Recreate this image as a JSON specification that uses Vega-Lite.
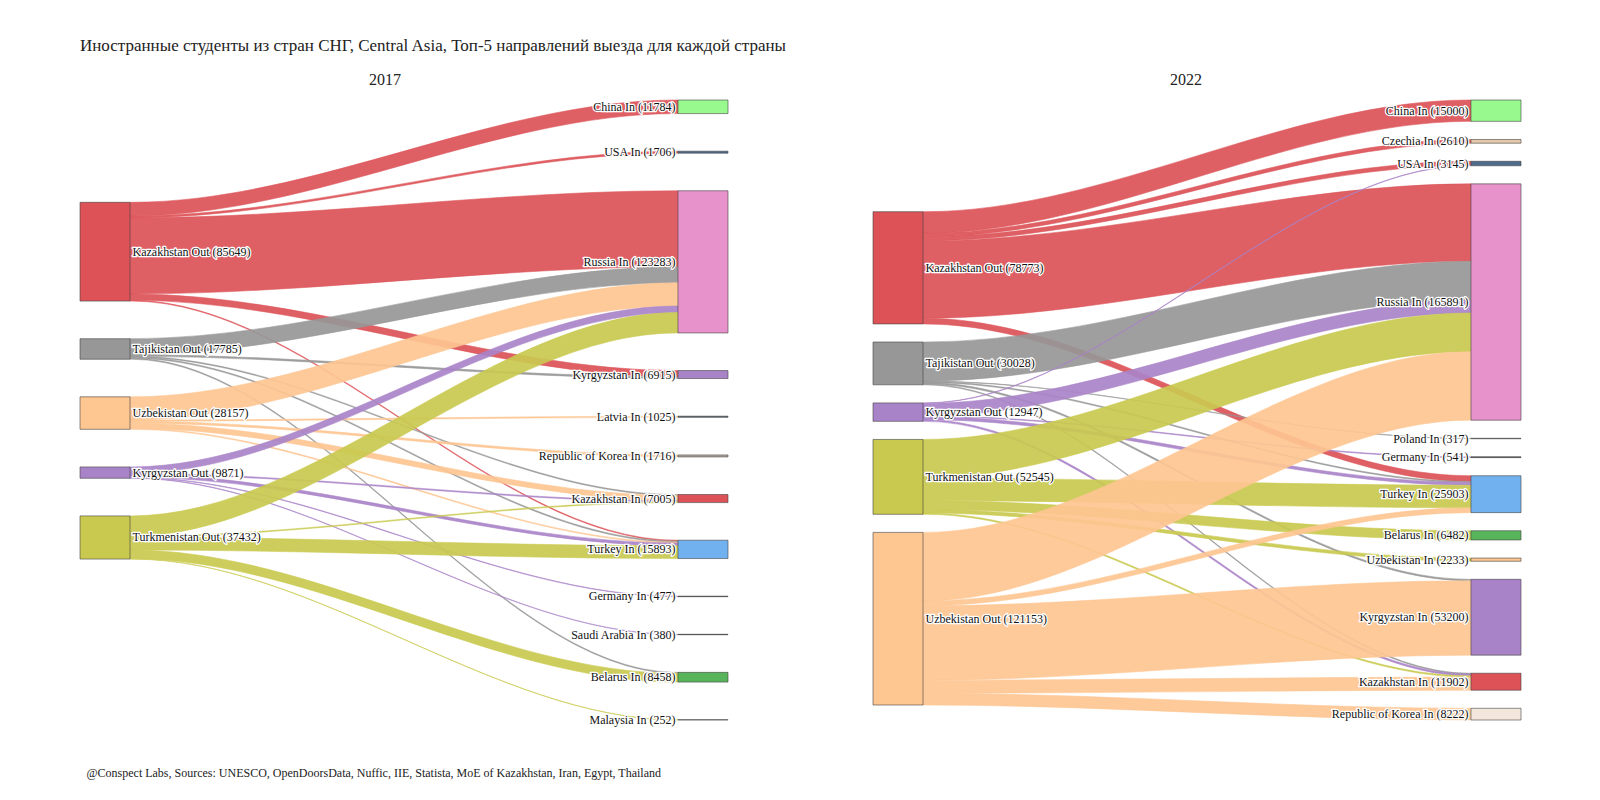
{
  "$schema": "https://vega.github.io/schema/vega-lite/v6.json",
  "background": "white",
  "padding": {"left": 79, "top": 36, "right": 80, "bottom": 20},
  "title": {"text": "Иностранные студенты из стран СНГ, Central Asia, Топ-5 направлений выезда для каждой страны", "anchor": "start", "frame": "group", "fontSize": 17, "fontWeight": "normal", "font": "Liberation Serif", "color": "#222", "offset": 17},
  "datasets": {
    "nodes": [
      {"year": 2017, "side": "Out", "name": "Kazakhstan Out", "value": 85649},
      {"year": 2017, "side": "Out", "name": "Tajikistan Out", "value": 17785},
      {"year": 2017, "side": "Out", "name": "Uzbekistan Out", "value": 28157},
      {"year": 2017, "side": "Out", "name": "Kyrgyzstan Out", "value": 9871},
      {"year": 2017, "side": "Out", "name": "Turkmenistan Out", "value": 37432},
      {"year": 2017, "side": "In", "name": "China In", "value": 11784},
      {"year": 2017, "side": "In", "name": "USA In", "value": 1706},
      {"year": 2017, "side": "In", "name": "Russia In", "value": 123283},
      {"year": 2017, "side": "In", "name": "Kyrgyzstan In", "value": 6915},
      {"year": 2017, "side": "In", "name": "Latvia In", "value": 1025},
      {"year": 2017, "side": "In", "name": "Republic of Korea In", "value": 1716},
      {"year": 2017, "side": "In", "name": "Kazakhstan In", "value": 7005},
      {"year": 2017, "side": "In", "name": "Turkey In", "value": 15893},
      {"year": 2017, "side": "In", "name": "Germany In", "value": 477},
      {"year": 2017, "side": "In", "name": "Saudi Arabia In", "value": 380},
      {"year": 2017, "side": "In", "name": "Belarus In", "value": 8458},
      {"year": 2017, "side": "In", "name": "Malaysia In", "value": 252},
      {"year": 2022, "side": "Out", "name": "Kazakhstan Out", "value": 78773},
      {"year": 2022, "side": "Out", "name": "Tajikistan Out", "value": 30028},
      {"year": 2022, "side": "Out", "name": "Kyrgyzstan Out", "value": 12947},
      {"year": 2022, "side": "Out", "name": "Turkmenistan Out", "value": 52545},
      {"year": 2022, "side": "Out", "name": "Uzbekistan Out", "value": 121153},
      {"year": 2022, "side": "In", "name": "China In", "value": 15000},
      {"year": 2022, "side": "In", "name": "Czechia In", "value": 2610},
      {"year": 2022, "side": "In", "name": "USA In", "value": 3145},
      {"year": 2022, "side": "In", "name": "Russia In", "value": 165891},
      {"year": 2022, "side": "In", "name": "Poland In", "value": 317},
      {"year": 2022, "side": "In", "name": "Germany In", "value": 541},
      {"year": 2022, "side": "In", "name": "Turkey In", "value": 25903},
      {"year": 2022, "side": "In", "name": "Belarus In", "value": 6482},
      {"year": 2022, "side": "In", "name": "Uzbekistan In", "value": 2233},
      {"year": 2022, "side": "In", "name": "Kyrgyzstan In", "value": 53200},
      {"year": 2022, "side": "In", "name": "Kazakhstan In", "value": 11902},
      {"year": 2022, "side": "In", "name": "Republic of Korea In", "value": 8222}
    ],
    "links": [
      {"year": 2017, "source": "Kazakhstan Out", "target": "China In", "value": 11784},
      {"year": 2017, "source": "Kazakhstan Out", "target": "USA In", "value": 1706},
      {"year": 2017, "source": "Kazakhstan Out", "target": "Russia In", "value": 65959},
      {"year": 2017, "source": "Kazakhstan Out", "target": "Kyrgyzstan In", "value": 5500},
      {"year": 2017, "source": "Kazakhstan Out", "target": "Turkey In", "value": 700},
      {"year": 2017, "source": "Tajikistan Out", "target": "Russia In", "value": 13870},
      {"year": 2017, "source": "Tajikistan Out", "target": "Kyrgyzstan In", "value": 1415},
      {"year": 2017, "source": "Tajikistan Out", "target": "Kazakhstan In", "value": 800},
      {"year": 2017, "source": "Tajikistan Out", "target": "Turkey In", "value": 900},
      {"year": 2017, "source": "Tajikistan Out", "target": "Belarus In", "value": 800},
      {"year": 2017, "source": "Uzbekistan Out", "target": "Russia In", "value": 20116},
      {"year": 2017, "source": "Uzbekistan Out", "target": "Latvia In", "value": 1025},
      {"year": 2017, "source": "Uzbekistan Out", "target": "Republic of Korea In", "value": 1716},
      {"year": 2017, "source": "Uzbekistan Out", "target": "Kazakhstan In", "value": 4500},
      {"year": 2017, "source": "Uzbekistan Out", "target": "Turkey In", "value": 800},
      {"year": 2017, "source": "Kyrgyzstan Out", "target": "Russia In", "value": 5700},
      {"year": 2017, "source": "Kyrgyzstan Out", "target": "Kazakhstan In", "value": 900},
      {"year": 2017, "source": "Kyrgyzstan Out", "target": "Turkey In", "value": 2414},
      {"year": 2017, "source": "Kyrgyzstan Out", "target": "Germany In", "value": 477},
      {"year": 2017, "source": "Kyrgyzstan Out", "target": "Saudi Arabia In", "value": 380},
      {"year": 2017, "source": "Turkmenistan Out", "target": "Russia In", "value": 17638},
      {"year": 2017, "source": "Turkmenistan Out", "target": "Kazakhstan In", "value": 805},
      {"year": 2017, "source": "Turkmenistan Out", "target": "Turkey In", "value": 11079},
      {"year": 2017, "source": "Turkmenistan Out", "target": "Belarus In", "value": 7658},
      {"year": 2017, "source": "Turkmenistan Out", "target": "Malaysia In", "value": 252},
      {"year": 2022, "source": "Kazakhstan Out", "target": "China In", "value": 15000},
      {"year": 2022, "source": "Kazakhstan Out", "target": "Czechia In", "value": 2610},
      {"year": 2022, "source": "Kazakhstan Out", "target": "USA In", "value": 2845},
      {"year": 2022, "source": "Kazakhstan Out", "target": "Russia In", "value": 54318},
      {"year": 2022, "source": "Kazakhstan Out", "target": "Turkey In", "value": 4000},
      {"year": 2022, "source": "Tajikistan Out", "target": "Russia In", "value": 27411},
      {"year": 2022, "source": "Tajikistan Out", "target": "Poland In", "value": 317},
      {"year": 2022, "source": "Tajikistan Out", "target": "Turkey In", "value": 700},
      {"year": 2022, "source": "Tajikistan Out", "target": "Kyrgyzstan In", "value": 1000},
      {"year": 2022, "source": "Tajikistan Out", "target": "Kazakhstan In", "value": 600},
      {"year": 2022, "source": "Kyrgyzstan Out", "target": "USA In", "value": 300},
      {"year": 2022, "source": "Kyrgyzstan Out", "target": "Russia In", "value": 8906},
      {"year": 2022, "source": "Kyrgyzstan Out", "target": "Germany In", "value": 541},
      {"year": 2022, "source": "Kyrgyzstan Out", "target": "Turkey In", "value": 2000},
      {"year": 2022, "source": "Kyrgyzstan Out", "target": "Kazakhstan In", "value": 1200},
      {"year": 2022, "source": "Turkmenistan Out", "target": "Russia In", "value": 27127},
      {"year": 2022, "source": "Turkmenistan Out", "target": "Turkey In", "value": 15803},
      {"year": 2022, "source": "Turkmenistan Out", "target": "Belarus In", "value": 6482},
      {"year": 2022, "source": "Turkmenistan Out", "target": "Uzbekistan In", "value": 2233},
      {"year": 2022, "source": "Turkmenistan Out", "target": "Kazakhstan In", "value": 900},
      {"year": 2022, "source": "Uzbekistan Out", "target": "Russia In", "value": 48129},
      {"year": 2022, "source": "Uzbekistan Out", "target": "Turkey In", "value": 3400},
      {"year": 2022, "source": "Uzbekistan Out", "target": "Kyrgyzstan In", "value": 52200},
      {"year": 2022, "source": "Uzbekistan Out", "target": "Kazakhstan In", "value": 9202},
      {"year": 2022, "source": "Uzbekistan Out", "target": "Republic of Korea In", "value": 8222}
    ]
  },
  "spacing": 143,
  "resolve": {"scale": {"color": "independent", "stroke": "independent"}},
  "hconcat": [
    {
      "width": 648,
      "height": 620,
      "title": {"text": "2017", "fontSize": 16, "font": "Liberation Serif", "fontWeight": "normal", "color": "#222", "dx": -19, "offset": 11},
      "layer": [
        {
          "data": {"name": "links"},
          "transform": [
            {"filter": "datum.year == 2017"},
            {"calculate": "indexof(['Kazakhstan Out','Tajikistan Out','Uzbekistan Out','Kyrgyzstan Out','Turkmenistan Out'], datum.source)", "as": "sr"},
            {"calculate": "indexof(['China In','USA In','Russia In','Kyrgyzstan In','Latvia In','Republic of Korea In','Kazakhstan In','Turkey In','Germany In','Saudi Arabia In','Belarus In','Malaysia In'], datum.target)", "as": "tr"},
            {"window": [{"op": "sum", "field": "value", "as": "cs"}], "sort": [{"field": "sr"}, {"field": "tr"}]},
            {"window": [{"op": "sum", "field": "value", "as": "ct"}], "sort": [{"field": "tr"}, {"field": "sr"}]},
            {"calculate": "88710 + datum.sr * 32605 + datum.cs - datum.value", "as": "s0"},
            {"calculate": "datum.s0", "as": "s1"},
            {"calculate": "datum.tr * 32605 + datum.ct - datum.value", "as": "t1"},
            {"calculate": "datum.t1", "as": "t0"},
            {"calculate": "datum.source + ' > ' + datum.target", "as": "link"},
            {"fold": ["s0", "s1", "t1", "t0"], "as": ["pt", "top"]},
            {"calculate": "datum.pt == 's0' ? 0.0772 : datum.pt == 's1' ? 0.0792 : datum.pt == 't1' ? 0.9208 : 0.9228", "as": "px"},
            {"calculate": "datum.top + datum.value", "as": "bot"}
          ],
          "mark": {"type": "area", "orient": "vertical", "interpolate": "monotone", "fillOpacity": 0.92, "strokeWidth": 0.6, "strokeOpacity": 0.9},
          "encoding": {
            "x": {"field": "px", "type": "quantitative", "scale": {"domain": [0, 1], "nice": false, "zero": false},
              "axis": {"title": "@Conspect Labs, Sources: UNESCO, OpenDoorsData, Nuffic, IIE, Statista, MoE of Kazakhstan, Iran, Egypt, Thailand", "labels": false, "ticks": false, "domain": false, "grid": false, "titleFontSize": 12, "titleFontWeight": "normal", "titleFont": "Liberation Serif", "titleColor": "#222", "titleAnchor": "start", "titleAlign": "left", "titlePadding": 47, "titleX": 6}},
            "y": {"field": "top", "type": "quantitative", "scale": {"domain": [0, 537549], "reverse": true, "nice": false, "zero": false}, "axis": null},
            "y2": {"field": "bot"},
            "detail": {"field": "link"},
            "color": {"field": "source", "type": "nominal", "legend": null,
              "scale": {"domain": ["Kazakhstan Out","Tajikistan Out","Uzbekistan Out","Kyrgyzstan Out","Turkmenistan Out","China In","USA In","Russia In","Kyrgyzstan In","Latvia In","Republic of Korea In","Kazakhstan In","Turkey In","Germany In","Saudi Arabia In","Belarus In","Malaysia In"],
                "range": ["#dc5257","#979797","#fec691","#a983c8","#c9c94f","#98f98e","#4e6b8c","#e792cb","#a983c8","#3d4b5b","#b8aea5","#dc5257","#71b1ef","#111111","#111111","#57b45a","#5a6068"]}},
            "stroke": {"field": "source", "type": "nominal", "legend": null,
              "scale": {"domain": ["Kazakhstan Out","Tajikistan Out","Uzbekistan Out","Kyrgyzstan Out","Turkmenistan Out"],
                "range": ["#dc5257","#979797","#fec691","#a983c8","#c9c94f"]}}
          }
        },
        {
          "data": {"name": "nodes"},
          "transform": [
            {"filter": "datum.year == 2017"},
            {"calculate": "datum.side == 'Out' ? indexof(['Kazakhstan Out','Tajikistan Out','Uzbekistan Out','Kyrgyzstan Out','Turkmenistan Out'], datum.name) : indexof(['China In','USA In','Russia In','Kyrgyzstan In','Latvia In','Republic of Korea In','Kazakhstan In','Turkey In','Germany In','Saudi Arabia In','Belarus In','Malaysia In'], datum.name)", "as": "rank"},
            {"window": [{"op": "sum", "field": "value", "as": "cum"}], "groupby": ["side"], "sort": [{"field": "rank"}]},
            {"calculate": "(datum.side == 'Out' ? 88710 : 0) + datum.rank * 32605 + datum.cum - datum.value", "as": "top"},
            {"calculate": "datum.top + datum.value", "as": "bottom"},
            {"calculate": "datum.top + datum.value / 2", "as": "mid"},
            {"calculate": "datum.side == 'Out' ? 0 : 0.9228", "as": "x0"},
            {"calculate": "datum.x0 + 0.0772", "as": "x1"},
            {"calculate": "datum.name + ' (' + datum.value + ')'", "as": "label"}
          ],
          "layer": [
            {
              "mark": {"type": "rect", "stroke": "#444", "strokeWidth": 1, "strokeOpacity": 0.6},
              "encoding": {
                "x": {"field": "x0", "type": "quantitative", "axis": {"title": "@Conspect Labs, Sources: UNESCO, OpenDoorsData, Nuffic, IIE, Statista, MoE of Kazakhstan, Iran, Egypt, Thailand", "labels": false, "ticks": false, "domain": false, "grid": false, "titleFontSize": 12, "titleFontWeight": "normal", "titleFont": "Liberation Serif", "titleColor": "#222", "titleAnchor": "start", "titleAlign": "left", "titlePadding": 47, "titleX": 6}},
                "x2": {"field": "x1"},
                "y": {"field": "top", "type": "quantitative", "axis": null},
                "y2": {"field": "bottom"},
                "color": {"field": "name", "type": "nominal", "legend": null}
              }
            },
            {
              "transform": [{"filter": "datum.side == 'Out'"}],
              "mark": {"type": "text", "align": "left", "baseline": "middle", "dx": 2.5, "fontSize": 12, "font": "Liberation Serif", "fill": "white", "stroke": "white", "strokeWidth": 2.5, "strokeJoin": "round"},
              "encoding": {"x": {"field": "x1", "type": "quantitative", "axis": {"title": "@Conspect Labs, Sources: UNESCO, OpenDoorsData, Nuffic, IIE, Statista, MoE of Kazakhstan, Iran, Egypt, Thailand", "labels": false, "ticks": false, "domain": false, "grid": false, "titleFontSize": 12, "titleFontWeight": "normal", "titleFont": "Liberation Serif", "titleColor": "#222", "titleAnchor": "start", "titleAlign": "left", "titlePadding": 47, "titleX": 6}}, "y": {"field": "mid", "type": "quantitative", "axis": null}, "text": {"field": "label"}}
            },
            {
              "transform": [{"filter": "datum.side == 'Out'"}],
              "mark": {"type": "text", "align": "left", "baseline": "middle", "dx": 2.5, "fontSize": 12, "font": "Liberation Serif", "fill": "#111"},
              "encoding": {"x": {"field": "x1", "type": "quantitative", "axis": {"title": "@Conspect Labs, Sources: UNESCO, OpenDoorsData, Nuffic, IIE, Statista, MoE of Kazakhstan, Iran, Egypt, Thailand", "labels": false, "ticks": false, "domain": false, "grid": false, "titleFontSize": 12, "titleFontWeight": "normal", "titleFont": "Liberation Serif", "titleColor": "#222", "titleAnchor": "start", "titleAlign": "left", "titlePadding": 47, "titleX": 6}}, "y": {"field": "mid", "type": "quantitative", "axis": null}, "text": {"field": "label"}}
            },
            {
              "transform": [{"filter": "datum.side == 'In'"}],
              "mark": {"type": "text", "align": "right", "baseline": "middle", "dx": -2.5, "fontSize": 12, "font": "Liberation Serif", "fill": "white", "stroke": "white", "strokeWidth": 2.5, "strokeJoin": "round"},
              "encoding": {"x": {"field": "x0", "type": "quantitative", "axis": {"title": "@Conspect Labs, Sources: UNESCO, OpenDoorsData, Nuffic, IIE, Statista, MoE of Kazakhstan, Iran, Egypt, Thailand", "labels": false, "ticks": false, "domain": false, "grid": false, "titleFontSize": 12, "titleFontWeight": "normal", "titleFont": "Liberation Serif", "titleColor": "#222", "titleAnchor": "start", "titleAlign": "left", "titlePadding": 47, "titleX": 6}}, "y": {"field": "mid", "type": "quantitative", "axis": null}, "text": {"field": "label"}}
            },
            {
              "transform": [{"filter": "datum.side == 'In'"}],
              "mark": {"type": "text", "align": "right", "baseline": "middle", "dx": -2.5, "fontSize": 12, "font": "Liberation Serif", "fill": "#111"},
              "encoding": {"x": {"field": "x0", "type": "quantitative", "axis": {"title": "@Conspect Labs, Sources: UNESCO, OpenDoorsData, Nuffic, IIE, Statista, MoE of Kazakhstan, Iran, Egypt, Thailand", "labels": false, "ticks": false, "domain": false, "grid": false, "titleFontSize": 12, "titleFontWeight": "normal", "titleFont": "Liberation Serif", "titleColor": "#222", "titleAnchor": "start", "titleAlign": "left", "titlePadding": 47, "titleX": 6}}, "y": {"field": "mid", "type": "quantitative", "axis": null}, "text": {"field": "label"}}
            }
          ]
        }
      ]
    },
    {
      "width": 648,
      "height": 620,
      "title": {"text": "2022", "fontSize": 16, "font": "Liberation Serif", "fontWeight": "normal", "color": "#222", "dx": -11, "offset": 11},
      "layer": [
        {
          "data": {"name": "links"},
          "transform": [
            {"filter": "datum.year == 2022"},
            {"calculate": "indexof(['Kazakhstan Out','Tajikistan Out','Kyrgyzstan Out','Turkmenistan Out','Uzbekistan Out'], datum.source)", "as": "sr"},
            {"calculate": "indexof(['China In','Czechia In','USA In','Russia In','Poland In','Germany In','Turkey In','Belarus In','Uzbekistan In','Kyrgyzstan In','Kazakhstan In','Republic of Korea In'], datum.target)", "as": "tr"},
            {"window": [{"op": "sum", "field": "value", "as": "cs"}], "sort": [{"field": "sr"}, {"field": "tr"}]},
            {"window": [{"op": "sum", "field": "value", "as": "ct"}], "sort": [{"field": "tr"}, {"field": "sr"}]},
            {"calculate": "78408 + datum.sr * 12705 + datum.cs - datum.value", "as": "s0"},
            {"calculate": "datum.s0", "as": "s1"},
            {"calculate": "datum.tr * 12705 + datum.ct - datum.value", "as": "t1"},
            {"calculate": "datum.t1", "as": "t0"},
            {"calculate": "datum.source + ' > ' + datum.target", "as": "link"},
            {"fold": ["s0", "s1", "t1", "t0"], "as": ["pt", "top"]},
            {"calculate": "datum.pt == 's0' ? 0.0772 : datum.pt == 's1' ? 0.0792 : datum.pt == 't1' ? 0.9208 : 0.9228", "as": "px"},
            {"calculate": "datum.top + datum.value", "as": "bot"}
          ],
          "mark": {"type": "area", "orient": "vertical", "interpolate": "monotone", "fillOpacity": 0.92, "strokeWidth": 0.6, "strokeOpacity": 0.9},
          "encoding": {
            "x": {"field": "px", "type": "quantitative", "scale": {"domain": [0, 1], "nice": false, "zero": false}, "axis": null},
            "y": {"field": "top", "type": "quantitative", "scale": {"domain": [0, 435201], "reverse": true, "nice": false, "zero": false}, "axis": null},
            "y2": {"field": "bot"},
            "detail": {"field": "link"},
            "color": {"field": "source", "type": "nominal", "legend": null,
              "scale": {"domain": ["Kazakhstan Out","Tajikistan Out","Kyrgyzstan Out","Turkmenistan Out","Uzbekistan Out","China In","Czechia In","USA In","Russia In","Poland In","Germany In","Turkey In","Belarus In","Uzbekistan In","Kyrgyzstan In","Kazakhstan In","Republic of Korea In"],
                "range": ["#dc5257","#979797","#a983c8","#c9c94f","#fec691","#98f98e","#e6c8aa","#4e6b8c","#e792cb","#58605a","#111111","#71b1ef","#57b45a","#fec691","#a983c8","#dc5257","#f3e6da"]}},
            "stroke": {"field": "source", "type": "nominal", "legend": null,
              "scale": {"domain": ["Kazakhstan Out","Tajikistan Out","Kyrgyzstan Out","Turkmenistan Out","Uzbekistan Out"],
                "range": ["#dc5257","#979797","#a983c8","#c9c94f","#fec691"]}}
          }
        },
        {
          "data": {"name": "nodes"},
          "transform": [
            {"filter": "datum.year == 2022"},
            {"calculate": "datum.side == 'Out' ? indexof(['Kazakhstan Out','Tajikistan Out','Kyrgyzstan Out','Turkmenistan Out','Uzbekistan Out'], datum.name) : indexof(['China In','Czechia In','USA In','Russia In','Poland In','Germany In','Turkey In','Belarus In','Uzbekistan In','Kyrgyzstan In','Kazakhstan In','Republic of Korea In'], datum.name)", "as": "rank"},
            {"window": [{"op": "sum", "field": "value", "as": "cum"}], "groupby": ["side"], "sort": [{"field": "rank"}]},
            {"calculate": "(datum.side == 'Out' ? 78408 : 0) + datum.rank * 12705 + datum.cum - datum.value", "as": "top"},
            {"calculate": "datum.top + datum.value", "as": "bottom"},
            {"calculate": "datum.top + datum.value / 2", "as": "mid"},
            {"calculate": "datum.side == 'Out' ? 0 : 0.9228", "as": "x0"},
            {"calculate": "datum.x0 + 0.0772", "as": "x1"},
            {"calculate": "datum.name + ' (' + datum.value + ')'", "as": "label"}
          ],
          "layer": [
            {
              "mark": {"type": "rect", "stroke": "#444", "strokeWidth": 1, "strokeOpacity": 0.6},
              "encoding": {
                "x": {"field": "x0", "type": "quantitative", "axis": null},
                "x2": {"field": "x1"},
                "y": {"field": "top", "type": "quantitative", "axis": null},
                "y2": {"field": "bottom"},
                "color": {"field": "name", "type": "nominal", "legend": null}
              }
            },
            {
              "transform": [{"filter": "datum.side == 'Out'"}],
              "mark": {"type": "text", "align": "left", "baseline": "middle", "dx": 2.5, "fontSize": 12, "font": "Liberation Serif", "fill": "white", "stroke": "white", "strokeWidth": 2.5, "strokeJoin": "round"},
              "encoding": {"x": {"field": "x1", "type": "quantitative", "axis": null}, "y": {"field": "mid", "type": "quantitative", "axis": null}, "text": {"field": "label"}}
            },
            {
              "transform": [{"filter": "datum.side == 'Out'"}],
              "mark": {"type": "text", "align": "left", "baseline": "middle", "dx": 2.5, "fontSize": 12, "font": "Liberation Serif", "fill": "#111"},
              "encoding": {"x": {"field": "x1", "type": "quantitative", "axis": null}, "y": {"field": "mid", "type": "quantitative", "axis": null}, "text": {"field": "label"}}
            },
            {
              "transform": [{"filter": "datum.side == 'In'"}],
              "mark": {"type": "text", "align": "right", "baseline": "middle", "dx": -2.5, "fontSize": 12, "font": "Liberation Serif", "fill": "white", "stroke": "white", "strokeWidth": 2.5, "strokeJoin": "round"},
              "encoding": {"x": {"field": "x0", "type": "quantitative", "axis": null}, "y": {"field": "mid", "type": "quantitative", "axis": null}, "text": {"field": "label"}}
            },
            {
              "transform": [{"filter": "datum.side == 'In'"}],
              "mark": {"type": "text", "align": "right", "baseline": "middle", "dx": -2.5, "fontSize": 12, "font": "Liberation Serif", "fill": "#111"},
              "encoding": {"x": {"field": "x0", "type": "quantitative", "axis": null}, "y": {"field": "mid", "type": "quantitative", "axis": null}, "text": {"field": "label"}}
            }
          ]
        }
      ]
    }
  ],
  "config": {
    "view": {"stroke": null},
    "font": "Liberation Serif"
  }
}
